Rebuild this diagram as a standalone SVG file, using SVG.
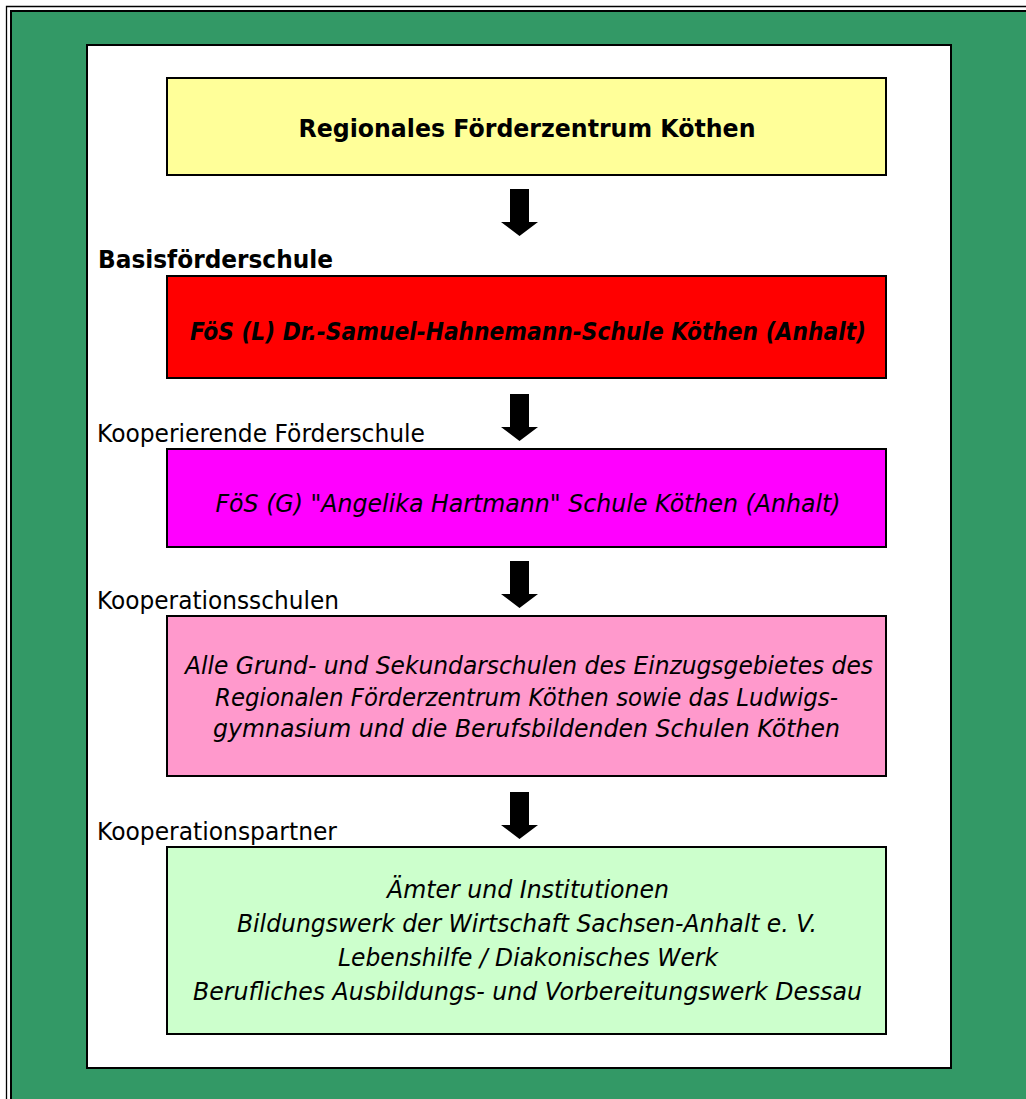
<svg xmlns="http://www.w3.org/2000/svg" width="1026" height="1099" viewBox="0 0 1026 1099">
<style>
text{font-family:"DejaVu Sans","Liberation Sans",sans-serif;font-size:24px;fill:#000}
.c{text-anchor:middle}
.b{font-weight:bold}
.i{font-style:italic}
.box{stroke:#000;stroke-width:2}
</style>
<defs>
<path id="arr" d="M-9.5,0 H9.5 V33 H18.5 L0,47 L-18.5,33 H-9.5 Z" fill="#000"/>
</defs>
<rect x="0" y="0" width="1026" height="1099" fill="#fff"/>
<rect x="11" y="11" width="1015" height="1088" fill="#339966"/>
<path d="M6.5,1099 V6.5 H1026" fill="none" stroke="#000" stroke-width="1.3"/>
<path d="M11,1099 V11 H1026" fill="none" stroke="#000" stroke-width="2"/>
<rect x="87" y="45" width="864" height="1023" fill="#fff" stroke="#000" stroke-width="2"/>

<g id="n1">
<rect class="box" x="167" y="78" width="719" height="97" fill="#FFFF99"/>
<text class="c b" x="527" y="137" textLength="457" lengthAdjust="spacingAndGlyphs">Regionales Förderzentrum Köthen</text>
</g>
<g id="l1"><text class="b" x="98" y="268" textLength="235" lengthAdjust="spacingAndGlyphs">Basisförderschule</text></g>
<g id="n2">
<rect class="box" x="167" y="276" width="719" height="102" fill="#FF0000"/>
<text class="c b i" x="528" y="340" textLength="676" lengthAdjust="spacingAndGlyphs">FöS (L) Dr.-Samuel-Hahnemann-Schule Köthen (Anhalt)</text>
</g>
<g id="l2"><text x="97" y="442" textLength="328" lengthAdjust="spacingAndGlyphs">Kooperierende Förderschule</text></g>
<g id="n3">
<rect class="box" x="167" y="449" width="719" height="98" fill="#FF00FF"/>
<text class="c i" x="528" y="512" textLength="625" lengthAdjust="spacingAndGlyphs">FöS (G) "Angelika Hartmann" Schule Köthen (Anhalt)</text>
</g>
<g id="l3"><text x="97" y="609" textLength="242" lengthAdjust="spacingAndGlyphs">Kooperationsschulen</text></g>
<g id="n4">
<rect class="box" x="167" y="616" width="719" height="160" fill="#FF99CC"/>
<text class="c i" x="529" y="674" textLength="688" lengthAdjust="spacingAndGlyphs">Alle Grund- und Sekundarschulen des Einzugsgebietes des</text>
<text class="c i" x="526.5" y="706" textLength="623" lengthAdjust="spacingAndGlyphs">Regionalen Förderzentrum Köthen sowie das Ludwigs-</text>
<text class="c i" x="526.5" y="737" textLength="627" lengthAdjust="spacingAndGlyphs">gymnasium und die Berufsbildenden Schulen Köthen</text>
</g>
<g id="l4"><text x="97" y="840" textLength="240" lengthAdjust="spacingAndGlyphs">Kooperationspartner</text></g>
<g id="n5">
<rect class="box" x="167" y="847" width="719" height="187" fill="#CCFFCC"/>
<text class="c i" x="528" y="898" textLength="282" lengthAdjust="spacingAndGlyphs">Ämter und Institutionen</text>
<text class="c i" x="527" y="932" textLength="580" lengthAdjust="spacingAndGlyphs">Bildungswerk der Wirtschaft Sachsen-Anhalt e. V.</text>
<text class="c i" x="528" y="966" textLength="380" lengthAdjust="spacingAndGlyphs">Lebenshilfe / Diakonisches Werk</text>
<text class="c i" x="527.5" y="1000" textLength="669" lengthAdjust="spacingAndGlyphs">Berufliches Ausbildungs- und Vorbereitungswerk Dessau</text>
</g>

<g id="connectors">
<use href="#arr" x="519.5" y="189"/>
<use href="#arr" x="519.5" y="394"/>
<use href="#arr" x="519.5" y="561"/>
<use href="#arr" x="519.5" y="792"/>
</g>
</svg>
